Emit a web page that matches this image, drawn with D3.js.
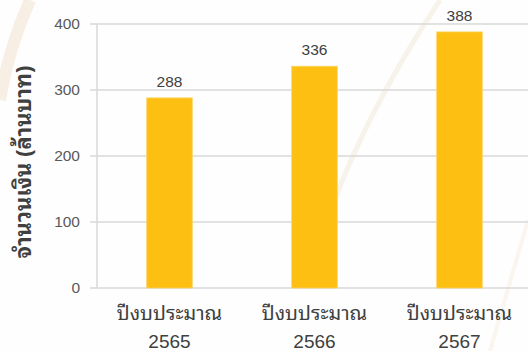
<!DOCTYPE html>
<html><head><meta charset="utf-8">
<script src="https://cdn.jsdelivr.net/npm/d3@7"></script>
<style>
html,body{margin:0;padding:0;background:#fefefe;overflow:hidden;}
svg{display:block;}
</style></head>
<body>
<svg id="chart" width="528" height="351"></svg>
<script>
const categories = ["2565", "2566", "2567"];
const categoryPrefix = "ปีงบประมาณ";
const values = [288, 336, 388];
const yTicks = [0, 100, 200, 300, 400];
const yTitle = "จำนวนเงิน (ล้านบาท)";

const W = 528, H = 351;
const m = {left: 97, right: -4, top: 24, bottom: 63};
const svg = d3.select("#chart");
const thaiFont = "'Noto Sans Thai Looped', 'Leelawadee UI', Tahoma, 'Noto Sans Thai', 'Noto Sans', 'DejaVu Sans', sans-serif";
const latinFont = "Arial, 'Liberation Sans', sans-serif";

// faint background decoration
const deco = svg.append("g").attr("fill", "none");
deco.append("path").attr("d", "M440,0 Q360,120 320,240").attr("stroke", "#f8f3ea").attr("stroke-width", 5);
deco.append("path").attr("d", "M30,0 Q8,50 0,100").attr("stroke", "#f7eee4").attr("stroke-width", 12);
deco.append("path").attr("d", "M528,220 L490,351").attr("stroke", "#faf5ee").attr("stroke-width", 4);

const x = d3.scaleBand().domain(categories).range([m.left, W - m.right]).paddingInner(0.686).paddingOuter(0.343);
const y = d3.scaleLinear().domain([0, 400]).range([H - m.bottom, m.top]);

// gridlines
svg.append("g").selectAll("line").data(yTicks).join("line")
  .attr("x1", m.left - 7).attr("x2", W)
  .attr("y1", d => y(d)).attr("y2", d => y(d))
  .attr("stroke", "#d9d9d9").attr("stroke-width", 1.5);

// y axis line
svg.append("line").attr("x1", m.left).attr("x2", m.left)
  .attr("y1", y(400)).attr("y2", y(0))
  .attr("stroke", "#d9d9d9").attr("stroke-width", 1.5);

// y tick labels
const yAxis = d3.axisLeft(y).tickValues(yTicks).tickSize(0).tickPadding(17);
const ya = svg.append("g").attr("transform", `translate(${m.left},0)`).call(yAxis);
ya.select(".domain").remove();
ya.selectAll("text").attr("font-family", latinFont)
  .attr("font-size", 15.5).attr("fill", "#595959");

// bars
svg.append("g").selectAll("rect").data(values).join("rect")
  .attr("x", (d, i) => x(categories[i]))
  .attr("width", x.bandwidth())
  .attr("y", d => y(d))
  .attr("height", d => y(0) - y(d))
  .attr("fill", "#fcbf12")
  .attr("stroke", "#fdd35c").attr("stroke-width", 0.8);

// value labels
svg.append("g").selectAll("text").data(values).join("text")
  .attr("x", (d, i) => x(categories[i]) + x.bandwidth() / 2)
  .attr("y", d => y(d) - 11)
  .attr("text-anchor", "middle")
  .attr("font-family", latinFont)
  .attr("font-size", 15.5).attr("fill", "#404040")
  .text(d => d);

// x labels
const xl = svg.append("g").selectAll("text").data(categories).join("text")
  .attr("x", d => x(d) + x.bandwidth() / 2)
  .attr("text-anchor", "middle")
  .attr("font-size", 20).attr("fill", "#404040");
xl.append("tspan").attr("x", d => x(d) + x.bandwidth() / 2).attr("y", 320)
  .attr("font-family", thaiFont).text(categoryPrefix);
xl.append("tspan").attr("x", d => x(d) + x.bandwidth() / 2).attr("y", 348)
  .attr("font-family", latinFont).attr("font-size", 19).text(d => d);

// y title
svg.append("text")
  .attr("transform", `translate(31,162) rotate(-90)`)
  .attr("text-anchor", "middle")
  .attr("font-family", thaiFont)
  .attr("font-weight", "bold").attr("font-size", 22).attr("fill", "#404040")
  .text(yTitle);
</script>
</body></html>
